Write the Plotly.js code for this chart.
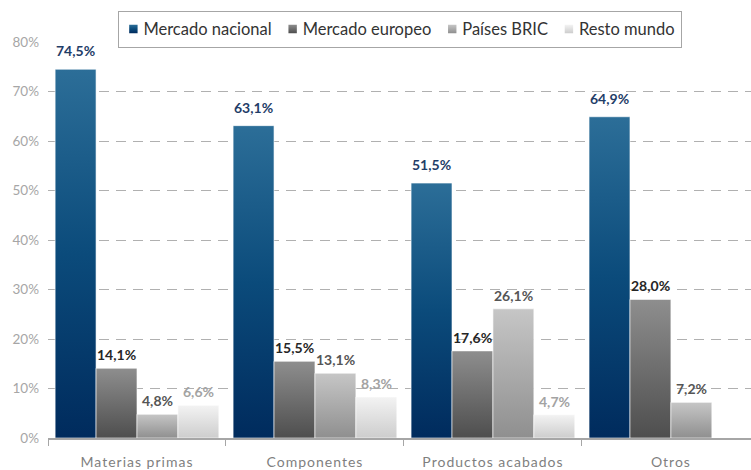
<!DOCTYPE html>
<html>
<head>
<meta charset="utf-8">
<script src="https://cdn.plot.ly/plotly-3.0.1.min.js"></script>
<style>
html,body{margin:0;padding:0;background:#fff;}
#chart{width:751px;height:470px;}
.xtick text{letter-spacing:1px;}
</style>
</head>
<body>
<div id="chart"></div>
<script>
const categories = ["Materias primas", "Componentes", "Productos acabados", "Otros"];
const seriesNames = ["Mercado nacional", "Mercado europeo", "Países BRIC", "Resto mundo"];
const nacional = [74.5, 63.1, 51.5, 64.9];
const europeo = [14.1, 15.5, 17.6, 28.0];
const bric = [4.8, 13.1, 26.1, 7.2];
const resto = [6.6, 8.3, 4.7, null];
const yTicks = [0, 10, 20, 30, 40, 50, 60, 70, 80];

const seriesValues = [nacional, europeo, bric, resto];
const baseColors = ["#0d4a7a", "#6a6a6a", "#ababab", "#e0e0e0"];
const gradStops = [
  [["0", "#2c6e98"], ["0.5", "#0b4b7b"], ["1", "#002b5d"]],
  [["0", "#8e8e8e"], ["1", "#4e4e4e"]],
  [["0", "#c6c6c6"], ["1", "#8f8f8f"]],
  [["0", "#f3f3f3"], ["1", "#cdcdcd"]]
];
const labelColors = ["#1f3d68", "#262626", "#555555", "#a3a3a3"];
const labelShift = [8, 3, 3, 3];

const bargap = 0.08;
const n = seriesValues.length;
const bw = (1 - bargap) / n;

const traces = seriesValues.map((vals, k) => ({
  type: "bar",
  name: seriesNames[k],
  x: categories,
  y: vals,
  marker: {color: baseColors[k], line: {color: "rgba(255,255,255,0.6)", width: 1}},
  hoverinfo: "none"
}));

const annotations = [];
seriesValues.forEach((vals, k) => {
  vals.forEach((v, i) => {
    if (v === null || v === undefined) return;
    annotations.push({
      xref: "x", yref: "y",
      x: i - (1 - bargap) / 2 + bw * (k + 0.5),
      y: v,
      text: v.toFixed(1).replace(".", ",") + "%",
      showarrow: false,
      yanchor: "bottom",
      xanchor: "center",
      yshift: labelShift[k],
      font: {family: "Lato, 'Open Sans', sans-serif", size: 14, color: labelColors[k], weight: "bold"}
    });
  });
});

const layout = {
  width: 751, height: 470,
  margin: {l: 48, r: 0, t: 42, b: 32},
  paper_bgcolor: "#ffffff",
  plot_bgcolor: "#ffffff",
  font: {family: "Lato, 'Open Sans', sans-serif", size: 14, color: "#7f7f7f"},
  barmode: "group",
  bargap: bargap,
  bargroupgap: 0,
  showlegend: true,
  legend: {
    orientation: "h",
    x: 0.5007, xanchor: "center",
    y: 1.079, yanchor: "top",
    bgcolor: "#ffffff",
    bordercolor: "#a6a6a6",
    borderwidth: 1,
    font: {size: 16.5, color: "#333333"},
    itemwidth: 30,
    traceorder: "normal"
  },
  xaxis: {
    type: "category",
    range: [-0.5, 3.45],
    tickson: "boundaries",
    ticks: "outside",
    ticklen: 6,
    tickwidth: 1,
    tickcolor: "#a6a6a6",
    showline: true,
    linecolor: "#a6a6a6",
    linewidth: 2,
    showgrid: false,
    tickfont: {size: 14, color: "#7f7f7f"},
    ticklabelstandoff: 10
  },
  yaxis: {
    range: [0, 80],
    tickvals: yTicks,
    ticktext: yTicks.map(t => t + "%"),
    showgrid: true,
    gridcolor: "#b0b0b0",
    griddash: "10px,7px",
    gridwidth: 1,
    zeroline: false,
    showline: false,
    ticks: "",
    ticklabelstandoff: 8,
    tickfont: {size: 13.5, color: "#a6a6a6"}
  },
  annotations: annotations
};

Plotly.newPlot("chart", traces, layout, {staticPlot: true, displayModeBar: false}).then(gd => {
  const NS = "http://www.w3.org/2000/svg";
  const svg = gd.querySelector("svg.main-svg");
  let defs = svg.querySelector("defs");
  if (!defs) { defs = document.createElementNS(NS, "defs"); svg.insertBefore(defs, svg.firstChild); }
  gradStops.forEach((stops, k) => {
    const lg = document.createElementNS(NS, "linearGradient");
    lg.setAttribute("id", "barGrad" + k);
    lg.setAttribute("x1", "0"); lg.setAttribute("y1", "0");
    lg.setAttribute("x2", "0"); lg.setAttribute("y2", "1");
    stops.forEach(([off, col]) => {
      const s = document.createElementNS(NS, "stop");
      s.setAttribute("offset", off);
      s.setAttribute("stop-color", col);
      lg.appendChild(s);
    });
    defs.appendChild(lg);
  });
  gd.querySelectorAll(".barlayer .trace").forEach((tr, k) => {
    tr.querySelectorAll(".point path").forEach(p => { p.style.fill = "url(#barGrad" + k + ")"; });
  });

  // compact legend layout
  const leg = gd.querySelector(".legend");
  const bg = leg.querySelector("rect.bg");
  const items = Array.from(leg.querySelectorAll(".traces"));
  const bgx = parseFloat(bg.getAttribute("x") || "0");
  let tx = bgx - 5;
  let lastEnd = 0;
  items.forEach((tr, k) => {
    tr.querySelectorAll(".legendpoints path").forEach(p => {
      p.style.fill = "url(#barGrad" + k + ")";
      p.style.stroke = "none";
      p.setAttribute("transform", (p.getAttribute("transform") || "") + " scale(0.7)");
    });
    const txt = tr.querySelector("text.legendtext");
    txt.setAttribute("x", "30");
    const w = txt.getComputedTextLength();
    const m = /translate\(\s*([-\d.]+)[ ,]+([-\d.]+)\s*\)/.exec(tr.getAttribute("transform") || "");
    const ty = m ? parseFloat(m[2]) : 0;
    tr.setAttribute("transform", "translate(" + tx + "," + ty + ")");
    lastEnd = tx + 30 + w;
    tx = tx + w + 31;
  });
  const W = lastEnd + 7 - bgx;
  bg.setAttribute("width", W);
  const lm = /translate\(\s*([-\d.]+)[ ,]+([-\d.]+)\s*\)/.exec(leg.getAttribute("transform") || "");
  const ly = lm ? parseFloat(lm[2]) : 0;
  leg.setAttribute("transform", "translate(" + (400 - W / 2 - bgx) + "," + ly + ")");
});
</script>
</body>
</html>
